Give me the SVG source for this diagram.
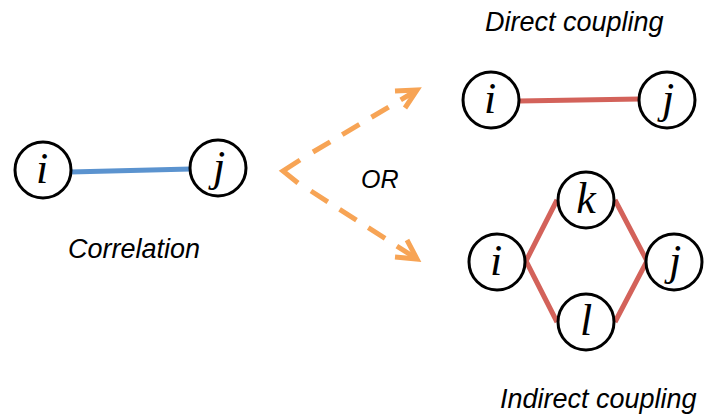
<svg xmlns="http://www.w3.org/2000/svg" width="704" height="415" viewBox="0 0 704 415">
<defs>
<style>
.node circle{fill:#fff;stroke:#000;stroke-width:3}
.var{font-family:"Liberation Serif","DejaVu Serif",serif;font-style:italic;font-size:44px;text-anchor:middle;fill:#000}
.lbl{font-family:"Liberation Sans",Arial,sans-serif;font-style:italic;font-size:27px;fill:#000}
.blue{stroke:#5B93CF;stroke-width:5;fill:none}
.red{stroke:#D3625A;stroke-width:5;fill:none;stroke-linecap:butt}
.dash{stroke:#F7A455;stroke-width:5;fill:none;stroke-dasharray:20 14}
.head{stroke:#F7A455;stroke-width:5;fill:none;stroke-linecap:butt;stroke-linejoin:miter}
</style>
</defs>
<rect width="704" height="415" fill="#fff"/>
<g id="connectors">
<line class="blue" x1="70" y1="172" x2="191" y2="169"/>
<line class="red" x1="519" y1="101" x2="640" y2="99"/>
<polyline class="red" points="557,200 526,261 557,322"/>
<polyline class="red" points="615,200 647,261 615,322"/>
<polyline class="head" points="300,160 283,171 298,183"/>
<line class="dash" x1="313" y1="152" x2="414" y2="92"/>
<line class="dash" x1="311" y1="191" x2="414" y2="257"/>
<polyline class="head" points="395,91 417,90 405,108"/>
<polyline class="head" points="407,240 417,259 395,257"/>
</g>
<g id="node-corr-i" class="node"><circle cx="43" cy="170" r="28"/><text class="var" x="42" y="183">i</text></g>
<g id="node-corr-j" class="node"><circle cx="218" cy="168" r="28"/><text class="var" x="219" y="181">j</text></g>
<g id="node-direct-i" class="node"><circle cx="491" cy="100" r="28"/><text class="var" x="490" y="113">i</text></g>
<g id="node-direct-j" class="node"><circle cx="667" cy="100" r="28"/><text class="var" x="668" y="113">j</text></g>
<g id="node-ind-i" class="node"><circle cx="497" cy="262" r="28"/><text class="var" x="496" y="275">i</text></g>
<g id="node-ind-k" class="node"><circle cx="586" cy="200" r="28"/><text class="var" x="586" y="213">k</text></g>
<g id="node-ind-l" class="node"><circle cx="586" cy="322" r="28"/><text class="var" x="586" y="335">l</text></g>
<g id="node-ind-j" class="node"><circle cx="674" cy="262" r="28"/><text class="var" x="675" y="275">j</text></g>
<g id="labels">
<text class="lbl" x="68" y="258">Correlation</text>
<text class="lbl" x="361" y="188" style="font-size:25px">OR</text>
<text class="lbl" x="485" y="31">Direct coupling</text>
<text class="lbl" x="500" y="408">Indirect coupling</text>
</g>
</svg>
